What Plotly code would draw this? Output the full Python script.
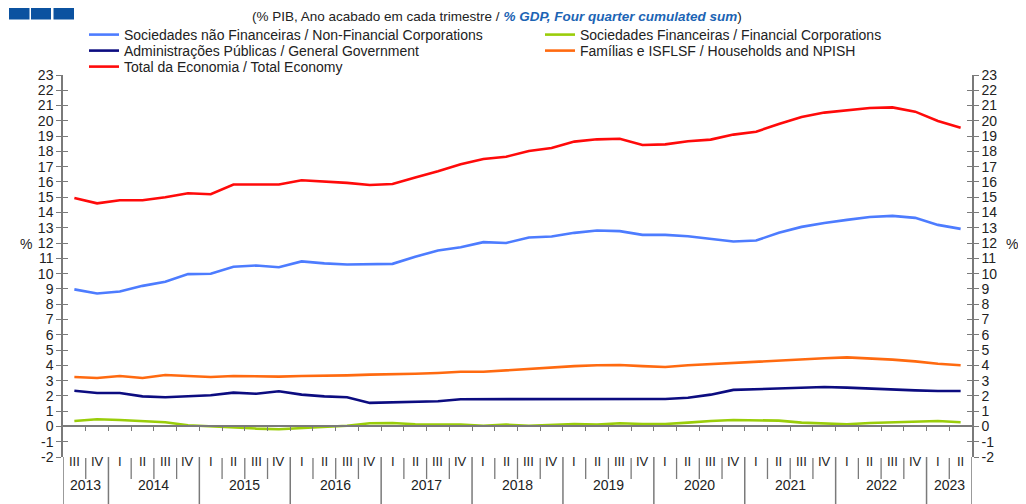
import plotly.graph_objects as go

quarters = ["III", "IV"] + ["I", "II", "III", "IV"] * 9 + ["I", "II"]
years = ["2013", "2014", "2015", "2016", "2017", "2018", "2019", "2020", "2021", "2022", "2023"]
y_ticks = list(range(-2, 24))
y_ticktext = [str(v) for v in y_ticks]

nfc = [8.97, 8.70, 8.83, 9.20, 9.47, 9.97, 9.99, 10.45, 10.53, 10.42,
       10.80, 10.67, 10.60, 10.64, 10.64, 11.10, 11.52, 11.73, 12.06, 12.01,
       12.37, 12.43, 12.67, 12.82, 12.78, 12.54, 12.54, 12.45, 12.28, 12.10,
       12.17, 12.67, 13.06, 13.32, 13.52, 13.71, 13.78, 13.65, 13.19, 12.93]
fc = [0.36, 0.47, 0.42, 0.36, 0.27, 0.08, 0.00, -0.10, -0.14, -0.18,
      -0.10, -0.03, 0.05, 0.21, 0.23, 0.14, 0.12, 0.12, 0.05, 0.12,
      0.05, 0.12, 0.16, 0.12, 0.21, 0.16, 0.16, 0.25, 0.36, 0.42,
      0.42, 0.38, 0.25, 0.21, 0.14, 0.23, 0.27, 0.30, 0.36, 0.27]
gg = [2.34, 2.19, 2.19, 1.97, 1.91, 1.97, 2.04, 2.21, 2.14, 2.30,
      2.08, 1.97, 1.91, 1.54, 1.58, 1.60, 1.65, 1.78, 1.78, 1.81,
      1.80, 1.80, 1.80, 1.80, 1.80, 1.80, 1.80, 1.88, 2.08, 2.39,
      2.43, 2.47, 2.54, 2.58, 2.54, 2.47, 2.43, 2.36, 2.32, 2.32]
hh = [3.24, 3.17, 3.30, 3.17, 3.37, 3.30, 3.24, 3.30, 3.26, 3.26,
      3.30, 3.30, 3.34, 3.39, 3.41, 3.45, 3.50, 3.58, 3.58, 3.68,
      3.76, 3.84, 3.95, 4.00, 4.02, 3.95, 3.89, 4.00, 4.08, 4.17,
      4.26, 4.30, 4.39, 4.46, 4.52, 4.46, 4.37, 4.26, 4.10, 4.00]
total = [14.95, 14.60, 14.80, 14.80, 15.00, 15.26, 15.20, 15.83, 15.83, 15.83,
         16.11, 16.02, 15.94, 15.80, 15.87, 16.30, 16.70, 17.16, 17.50, 17.65,
         18.03, 18.22, 18.64, 18.79, 18.83, 18.42, 18.46, 18.66, 18.77, 19.10,
         19.29, 19.79, 20.25, 20.54, 20.69, 20.84, 20.88, 20.60, 19.99, 19.55]

names = {
    "nfc": "Sociedades não Financeiras / Non-Financial Corporations",
    "fc": "Sociedades Financeiras / Financial Corporations",
    "gg": "Administrações Públicas / General Government",
    "hh": "Famílias e ISFLSF / Households and NPISH",
    "total": "Total da Economia / Total Economy",
}
colors = {"nfc": "#4d7cff", "fc": "#9acd0a", "gg": "#0c0c80", "hh": "#ff6a10", "total": "#ff0a0a"}
series = {"nfc": nfc, "fc": fc, "gg": gg, "hh": hh, "total": total}
# legend slot for each series: (legend id, text-start x, row centre y) in page pixels
legend_slot = {"nfc": ("legend", 124, 34), "fc": ("legend2", 580, 34),
               "gg": ("legend3", 124, 50), "hh": ("legend4", 580, 50),
               "total": ("legend5", 124, 66)}

x = list(range(len(quarters)))
FONT = "Liberation Sans, Arial, sans-serif"
AX = "#7a7a7a"
TXT = "#222"

# page has an 8px body margin; work in page pixels and convert
OFF = 8
W, H = 1026 - OFF, 504 - OFF
L, T = 63 - OFF, 75 - OFF
pw, ph = 909, 382
R, B = W - L - pw, H - T - ph
def px(xp): return (xp - OFF - L) / pw
def py(yp): return (T + ph - (yp - OFF)) / ph

fig = go.Figure()
for key in ["nfc", "fc", "gg", "hh", "total"]:
    fig.add_trace(go.Scatter(x=x, y=series[key], mode="lines", name=names[key],
                             legend=legend_slot[key][0],
                             line=dict(color=colors[key], width=2.6)))

common_y = dict(range=[-2, 23], tickvals=y_ticks, ticktext=y_ticktext, showgrid=False,
                zeroline=False, showline=True, linecolor=AX, linewidth=1.5, tickcolor=AX,
                tickwidth=1.2, ticklen=5, tickfont=dict(family=FONT, size=14, color=TXT))

layout = dict(
    width=W, height=H, autosize=False,
    margin=dict(l=L, r=R, t=T, b=B, autoexpand=False),
    paper_bgcolor="white", plot_bgcolor="white",
    font=dict(family=FONT, size=13, color=TXT),
    xaxis=dict(range=[-0.5, len(x) - 0.5], anchor="free", position=2 / 25,
               showline=True, linecolor=AX, linewidth=1.5, showgrid=False, zeroline=False,
               ticks="outside", ticklen=4, tickcolor=AX, tickwidth=1.2,
               tickvals=[i + 0.5 for i in range(len(x) - 1)], showticklabels=False),
    yaxis=dict(side="left", ticks="outside", **common_y),
    yaxis2=dict(side="right", overlaying="y", ticks="outside", **common_y),
    yaxis3=dict(side="left", overlaying="y", ticks="inside", showticklabels=False, **common_y),
    yaxis4=dict(side="right", overlaying="y", ticks="inside", showticklabels=False, **common_y),
    showlegend=True,
)
for key, (lid, tx, ty) in legend_slot.items():
    layout[lid] = dict(x=px(tx - 40), xanchor="left", y=py(ty - 15), yanchor="top",
                       font=dict(family=FONT, size=14, color=TXT), itemwidth=30,
                       bgcolor="rgba(0,0,0,0)", borderwidth=0)
fig.update_layout(**layout)

# invisible traces so overlay axes render
for ya in ["y2", "y3", "y4"]:
    fig.add_trace(go.Scatter(x=[0], y=[0], yaxis=ya, mode="markers", marker=dict(opacity=0),
                             showlegend=False, hoverinfo="skip"))

ann = []
shapes = []
ann.append(dict(xref="paper", yref="paper", x=px(497), y=py(17), xanchor="center", yanchor="middle",
                showarrow=False, font=dict(family=FONT, size=13.5, color=TXT),
                text="(% PIB, Ano acabado em cada trimestre / <b><i><span style='color:#1c64b4'>% GDP, Four quarter cumulated sum</span></i></b>)"))
ann.append(dict(xref="paper", yref="paper", x=px(18), y=py(244), showarrow=False, text="%",
                font=dict(family=FONT, size=14, color=TXT)))
ann.append(dict(xref="paper", yref="paper", x=px(1020), y=py(244), showarrow=False, text="%",
                font=dict(family=FONT, size=14, color=TXT)))

year_bounds = [-0.5]
for i, q in enumerate(quarters):
    ann.append(dict(xref="x", yref="paper", x=i, y=py(471), showarrow=False, text=q,
                    font=dict(family=FONT, size=13, color=TXT)))
    if i > 0:
        if q == "I":
            year_bounds.append(i - 0.5)
        else:
            shapes.append(dict(type="line", xref="x", yref="paper", x0=i - 0.5, x1=i - 0.5,
                               y0=py(458), y1=py(479), line=dict(color=AX, width=1.3)))
year_bounds.append(len(quarters) - 0.5)
for b in year_bounds:
    shapes.append(dict(type="line", xref="x", yref="paper", x0=b, x1=b,
                       y0=0, y1=py(506), line=dict(color=AX, width=1.5)))
for j, yv in enumerate(years):
    c = (year_bounds[j] + year_bounds[j + 1]) / 2
    ann.append(dict(xref="x", yref="paper", x=c, y=py(495), showarrow=False, text=yv,
                    font=dict(family=FONT, size=14, color=TXT)))

for x0, x1 in [(9, 29.5), (31, 51), (53.5, 74)]:
    shapes.append(dict(type="rect", xref="paper", yref="paper", x0=px(x0), x1=px(x1),
                       y0=py(19.5), y1=py(7), line=dict(width=0), fillcolor="#0b52a0"))

fig.update_layout(annotations=ann, shapes=shapes)
fig.write_html("out.html")
